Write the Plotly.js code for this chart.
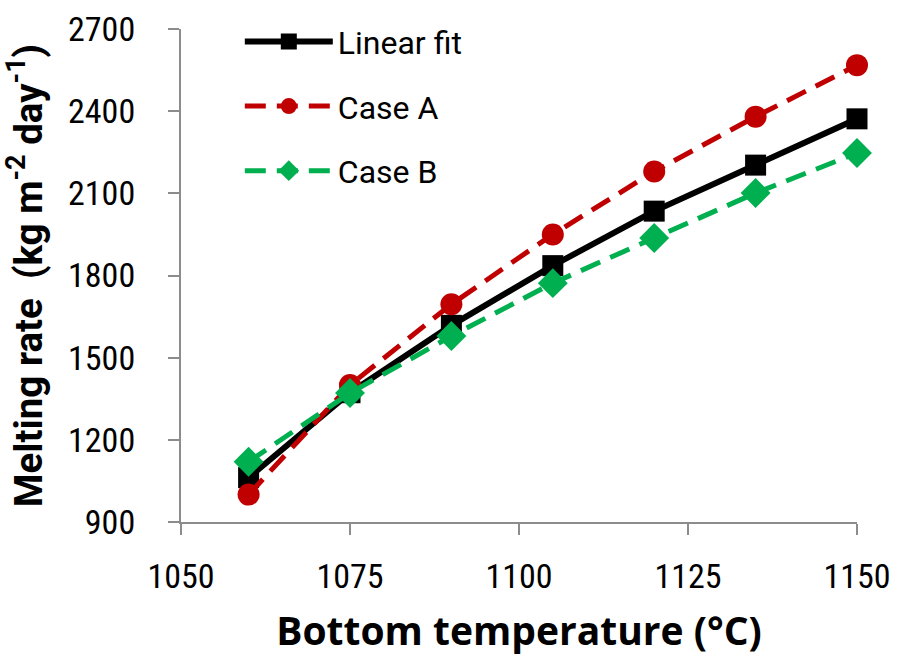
<!DOCTYPE html>
<html>
<head>
<meta charset="utf-8">
<script src="https://cdn.plot.ly/plotly-3.0.1.min.js"></script>
<style>html,body{margin:0;padding:0;background:#fff;}#chart{width:901px;height:656px;}</style>
</head>
<body>
<div id="chart"></div>
<script>
var temperature = [1060, 1075, 1090, 1105, 1120, 1135, 1150];
var linearFit = [1062, 1372, 1618, 1836, 2035, 2203, 2372];
var caseA = [1000, 1400, 1695, 1950, 2180, 2380, 2568];
var caseB = [1120, 1371, 1579, 1772, 1937, 2101, 2247];
var xTicks = [1050, 1075, 1100, 1125, 1150];
var yTicks = [900, 1200, 1500, 1800, 2100, 2400, 2700];
var seriesNames = ["Linear fit", "Case A", "Case B"];

var condensed = "Roboto Condensed, Liberation Sans Narrow, Arial Narrow, sans-serif";
var tickFont = {family: condensed, size: 34, color: "#000"};
var axisColor = "#8c8c8c";

var traces = [
  {x: temperature, y: linearFit, name: seriesNames[0], legendgroup: "g1", mode: "lines+markers",
   line: {color: "#000000", width: 6},
   marker: {symbol: "square", size: 21, color: "#000000"}, cliponaxis: false},
  {x: temperature, y: caseA, name: seriesNames[1], legendgroup: "g2", mode: "lines+markers",
   line: {color: "#C00000", width: 5, dash: "21px,11px"},
   marker: {symbol: "circle", size: 22, color: "#C00000"}, cliponaxis: false},
  {x: temperature, y: caseB, name: seriesNames[2], legendgroup: "g3", mode: "lines+markers",
   line: {color: "#00B050", width: 5, dash: "21px,11px"},
   marker: {symbol: "diamond", size: 23, color: "#00B050"}, cliponaxis: false}
];

var layout = {
  width: 901, height: 656,
  margin: {l: 181, r: 44, t: 29, b: 134, pad: 0},
  paper_bgcolor: "#ffffff", plot_bgcolor: "#ffffff",
  showlegend: true,
  legend: {x: 0.087, y: 1.03, xanchor: "left", yanchor: "top",
           bgcolor: "rgba(0,0,0,0)", itemwidth: 88, traceorder: "grouped", tracegroupgap: 20,
           font: {family: "Roboto, Open Sans, sans-serif", size: 32, color: "#000"}},
  xaxis: {range: [1050, 1150], tickvals: xTicks, ticktext: xTicks.map(String),
          showgrid: false, zeroline: false, showline: true, linecolor: axisColor, linewidth: 2,
          ticks: "outside", ticklen: 11, tickwidth: 2, tickcolor: axisColor,
          ticklabelstandoff: 12,
          tickfont: tickFont,
          title: {text: "<b>Bottom temperature (°C)</b>", standoff: 24,
                  font: {family: "Open Sans, Roboto, sans-serif", size: 39, color: "#000"}}},
  yaxis: {range: [900, 2700], tickvals: yTicks, ticktext: yTicks.map(String),
          showgrid: false, zeroline: false, showline: true, linecolor: axisColor, linewidth: 2,
          ticks: "outside", ticklen: 11, tickwidth: 2, tickcolor: axisColor,
          ticklabelstandoff: 26,
          tickfont: tickFont,
          title: {text: "<b>Melting rate  (kg m<sup>-2</sup> day<sup>-1</sup>)</b>", standoff: 14,
                  font: {family: "Roboto, Open Sans, sans-serif", size: 38.5, color: "#000"}}}
};

Plotly.newPlot("chart", traces, layout, {displayModeBar: false, staticPlot: true});
</script>
</body>
</html>
